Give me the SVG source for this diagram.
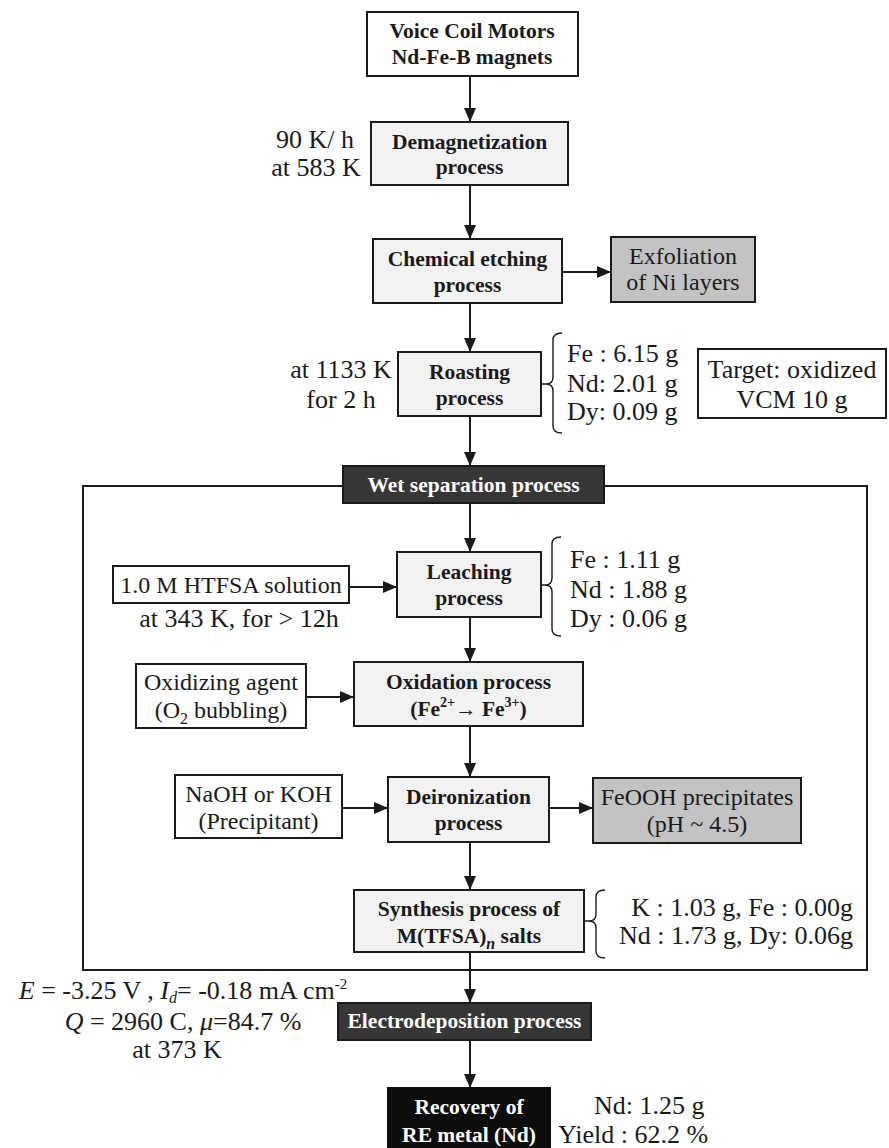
<svg xmlns="http://www.w3.org/2000/svg" width="889" height="1148" viewBox="0 0 889 1148">
  <style>
    .bg { fill: #ffffff; }
    .proc { fill: #f2f2f2; stroke: #1a1a1a; stroke-width: 2; }
    .plain { fill: #ffffff; stroke: #1a1a1a; stroke-width: 2; }
    .waste { fill: #c3c3c3; stroke: #1a1a1a; stroke-width: 2; }
    .dark { fill: #363636; stroke: #1a1a1a; stroke-width: 2; }
    .black { fill: #0d0d0d; stroke: #0d0d0d; stroke-width: 2; }
    .frame { fill: none; stroke: #1a1a1a; stroke-width: 2; }
    .conn line { stroke: #1a1a1a; stroke-width: 2; marker-end: url(#arr); }
    .brace { fill: none; stroke: #1a1a1a; stroke-width: 1.4; }
    text { font-family: 'Liberation Serif', 'DejaVu Serif', 'Times New Roman', serif; fill: #1a1a1a; }
    .b { font-weight: bold; font-size: 21.5px; text-anchor: middle; }
    .w { fill: #ffffff; }
    .r { font-size: 24px; text-anchor: middle; }
    .f { font-size: 26px; }
    .m { text-anchor: middle; }
    .e { text-anchor: end; }
    .it { font-style: italic; }
  </style>
  <defs>
    <marker id="arr" viewBox="0 0 14 12" refX="14" refY="6" markerWidth="14" markerHeight="12" orient="auto" markerUnits="userSpaceOnUse">
      <path d="M0,0 L14,6 L0,12 z" fill="#1a1a1a"/>
    </marker>
  </defs>

  <rect class="bg" x="0" y="0" width="889" height="1148"/>

  <!-- wet separation enclosure -->
  <rect class="frame" x="83" y="486" width="784" height="484"/>

  <!-- connectors -->
  <g id="connectors" class="conn">
    <line x1="470" y1="76" x2="470" y2="122"/>
    <line x1="470" y1="185" x2="470" y2="239"/>
    <line x1="562" y1="272" x2="611" y2="272"/>
    <line x1="470" y1="303" x2="470" y2="352"/>
    <line x1="470" y1="416" x2="470" y2="466"/>
    <line x1="470" y1="503" x2="470" y2="552"/>
    <line x1="349" y1="587" x2="397" y2="587"/>
    <line x1="470" y1="617" x2="470" y2="662"/>
    <line x1="306" y1="697" x2="354" y2="697"/>
    <line x1="470" y1="726" x2="470" y2="777"/>
    <line x1="342" y1="808" x2="388" y2="808"/>
    <line x1="549" y1="808" x2="593" y2="808"/>
    <line x1="470" y1="842" x2="470" y2="890"/>
    <line x1="470" y1="952" x2="470" y2="1003"/>
    <line x1="470" y1="1040" x2="470" y2="1088"/>
  </g>

  <g id="vcm">
    <rect class="plain" x="367" y="12" width="211" height="64"/>
    <text class="b" x="472" y="38">Voice Coil Motors</text>
    <text class="b" x="472" y="64">Nd-Fe-B magnets</text>
  </g>

  <g id="demag">
    <rect class="proc" x="371" y="122" width="197" height="63"/>
    <text class="b" x="469.5" y="149">Demagnetization</text>
    <text class="b" x="469.5" y="174">process</text>
    <text class="f m" x="315" y="148">90 K/ h</text>
    <text class="f m" x="316" y="176">at 583 K</text>
  </g>

  <g id="etching">
    <rect class="proc" x="373" y="239" width="189" height="64"/>
    <text class="b" x="467.5" y="266">Chemical etching</text>
    <text class="b" x="467.5" y="292">process</text>
  </g>

  <g id="exfoliation">
    <rect class="waste" x="611" y="237" width="144" height="65"/>
    <text class="r" x="683" y="264">Exfoliation</text>
    <text class="r" x="683" y="290">of Ni layers</text>
  </g>

  <g id="roasting">
    <rect class="proc" x="398" y="352" width="143" height="64"/>
    <text class="b" x="469.5" y="379">Roasting</text>
    <text class="b" x="469.5" y="405">process</text>
    <text class="f m" x="341" y="378">at 1133 K</text>
    <text class="f m" x="341" y="408">for 2 h</text>
    <path class="brace" d="M562,333 Q553,333 553,340 V377 Q553,384 546,384 H541 M546,384 Q553,384 553,391 V426 Q553,433 562,433"/>
    <text class="f" x="567" y="362">Fe : 6.15 g</text>
    <text class="f" x="567" y="392">Nd: 2.01 g</text>
    <text class="f" x="567" y="420">Dy: 0.09 g</text>
  </g>

  <g id="target">
    <rect class="plain" x="698" y="349" width="188" height="69"/>
    <text class="f m" x="792" y="378">Target: oxidized</text>
    <text class="f m" x="792" y="408">VCM 10 g</text>
  </g>

  <g id="wet-separation">
    <rect class="dark" x="343" y="466" width="261" height="37"/>
    <text class="b w" x="473.5" y="492">Wet separation process</text>
  </g>

  <g id="htfsa">
    <rect class="plain" x="113" y="566" width="236" height="37"/>
    <text class="r" x="231" y="593">1.0 M HTFSA solution</text>
    <text class="f m" x="239" y="627">at 343 K, for &gt; 12h</text>
  </g>

  <g id="leaching">
    <rect class="proc" x="397" y="552" width="144" height="65"/>
    <text class="b" x="469" y="579">Leaching</text>
    <text class="b" x="469" y="605">process</text>
    <path class="brace" d="M561,537 Q552,537 552,544 V578 Q552,585 545,585 H541 M545,585 Q552,585 552,592 V629 Q552,636 561,636"/>
    <text class="f" x="570" y="568">Fe : 1.11 g</text>
    <text class="f" x="570" y="598">Nd : 1.88 g</text>
    <text class="f" x="570" y="627">Dy : 0.06 g</text>
  </g>

  <g id="oxidizing-agent">
    <rect class="plain" x="136" y="664" width="170" height="64"/>
    <text class="r" x="221" y="690">Oxidizing agent</text>
    <text class="r" x="221" y="718">(O<tspan font-size="16" dy="6">2</tspan><tspan dy="-6"> bubbling)</tspan></text>
  </g>

  <g id="oxidation">
    <rect class="proc" x="354" y="662" width="229" height="64"/>
    <text class="b" x="468.5" y="689">Oxidation process</text>
    <text class="b" x="468.5" y="716">(Fe<tspan font-size="14" dy="-9">2+</tspan><tspan dy="9">→ Fe</tspan><tspan font-size="14" dy="-9">3+</tspan><tspan dy="9">)</tspan></text>
  </g>

  <g id="precipitant">
    <rect class="plain" x="175" y="775" width="167" height="63"/>
    <text class="r" x="258.5" y="802">NaOH or KOH</text>
    <text class="r" x="258.5" y="829">(Precipitant)</text>
  </g>

  <g id="deironization">
    <rect class="proc" x="388" y="777" width="161" height="65"/>
    <text class="b" x="468.5" y="804">Deironization</text>
    <text class="b" x="468.5" y="830">process</text>
  </g>

  <g id="feooh">
    <rect class="waste" x="593" y="778" width="208" height="65"/>
    <text class="r" x="697" y="805">FeOOH precipitates</text>
    <text class="r" x="697" y="832">(pH ~ 4.5)</text>
  </g>

  <g id="synthesis">
    <rect class="proc" x="354" y="890" width="230" height="62"/>
    <text class="b" x="469" y="916">Synthesis process of</text>
    <text class="b" x="469" y="943">M(TFSA)<tspan font-size="16" font-style="italic" dy="6">n</tspan><tspan dy="-6"> salts</tspan></text>
    <path class="brace" d="M605,890 Q596,890 596,897 V914 Q596,921 589,921 H584 M589,921 Q596,921 596,928 V951 Q596,958 605,958"/>
    <text class="f e" x="853" y="916">K : 1.03 g, Fe : 0.00g</text>
    <text class="f e" x="853" y="944">Nd : 1.73 g, Dy: 0.06g</text>
  </g>

  <g id="electrodeposition">
    <rect class="dark" x="338" y="1003" width="253" height="37"/>
    <text class="b w" x="464.5" y="1028">Electrodeposition process</text>
    <text class="f m" x="183" y="999" font-size="27"><tspan class="it">E</tspan> = -3.25 V , <tspan class="it">I</tspan><tspan class="it" font-size="16" dy="4">d</tspan><tspan dy="-4">= -0.18 mA cm</tspan><tspan font-size="15" dy="-10">-2</tspan></text>
    <text class="f m" x="183" y="1030"><tspan class="it">Q</tspan> = 2960 C, <tspan class="it">μ</tspan>=84.7 %</text>
    <text class="f m" x="177" y="1058">at 373 K</text>
  </g>

  <g id="recovery">
    <rect class="black" x="388" y="1088" width="162" height="64"/>
    <text class="b w" x="469" y="1114">Recovery of</text>
    <text class="b w" x="469" y="1142">RE metal (Nd)</text>
    <text class="f" x="594" y="1114">Nd: 1.25 g</text>
    <text class="f" x="558" y="1143">Yield : 62.2 %</text>
  </g>
</svg>
